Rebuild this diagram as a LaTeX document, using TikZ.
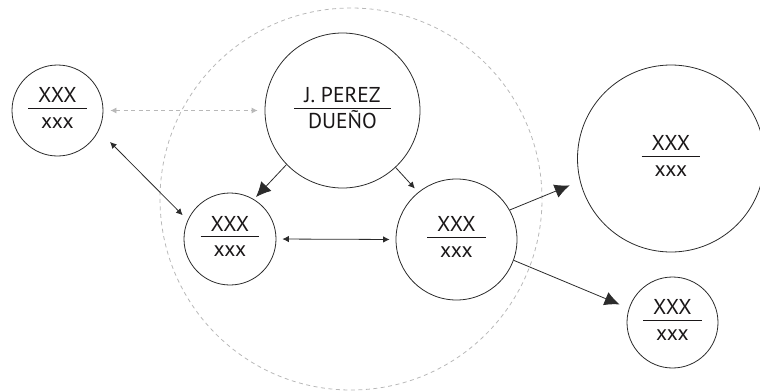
\documentclass[tikz,border=0pt]{standalone}
\usepackage{fontspec}
\setmainfont{PT Sans}
\usetikzlibrary{arrows.meta}
\definecolor{ink}{HTML}{1A1718}
\definecolor{stroke}{HTML}{2B2B2B}
\definecolor{lightgr}{HTML}{B8B8B8}
\setlength{\arrayrulewidth}{0.8pt}
\newcommand\twoline[2]{\begin{tabular}{@{\hspace{10pt}}c@{\hspace{10pt}}}#1\\[-2.5pt]\hline\rule{0pt}{19.5pt}#2\end{tabular}}
\begin{document}
\begin{tikzpicture}[x=1pt,y=-1pt,
  every node/.style={text=ink},
  bubble/.style={circle,draw=stroke,line width=0.8pt,inner sep=0pt,font=\fontsize{21.5}{25}\selectfont},
  link/.style={draw=stroke,line width=0.8pt},
  smalltip/.style={-{Latex[length=6.5pt,width=6.5pt]}},
  smalltwo/.style={{Latex[length=6.5pt,width=6.5pt]}-{Latex[length=6.5pt,width=6.5pt]}},
  bigtip/.style={-{Latex[length=15pt,width=14pt]}},
  ghost/.style={draw=lightgr,line width=0.8pt,dash pattern=on 4pt off 3.5pt}
]
\useasboundingbox (0,0) rectangle (760,391);
\begin{scope}
\clip (0,0) rectangle (760,391);
\node[circle,ghost,minimum size=382pt,inner sep=0pt] (zone) at (351,199) {};
\node[bubble,minimum size=91pt] (lc) at (57.5,110.5) {\twoline{XXX}{xxx}};
\node[bubble,minimum size=155pt] (jp) at (342.5,110.5) {\twoline{J. PEREZ}{DUEÑO}};
\node[bubble,minimum size=92pt] (ml) at (230,239) {\twoline{XXX}{xxx}};
\node[bubble,minimum size=121pt] (mr) at (456.5,239.5) {\twoline{XXX}{xxx}};
\node[bubble,minimum size=187pt] (big) at (671,158.5) {\twoline{XXX}{xxx}};
\node[bubble,minimum size=91pt] (br) at (672.5,322.5) {\twoline{XXX}{xxx}};
\end{scope}
% connectors
\draw[ghost,{Latex[length=6pt,width=6pt,fill=lightgr]}-{Latex[length=6pt,width=6pt,fill=lightgr]},shorten <=7pt,shorten >=7pt] (lc.east) -- (jp.west);
\draw[link,smalltwo,shorten <=16pt,shorten >=7pt] (lc.-26) -- (ml.156);
\draw[link,bigtip,shorten >=3pt] (jp.-136) -- (ml.59);
\draw[link,smalltip,shorten >=5pt] (jp.-47) -- (mr.129);
\draw[link,smalltwo,shorten <=6pt,shorten >=6pt] (ml.east) -- (mr.west);
\draw[link,bigtip,shorten >=11pt] (mr.29) -- (big.194);
\draw[link,bigtip,shorten >=10pt] (mr.-20) -- (br.162);
\end{tikzpicture}
\end{document}
